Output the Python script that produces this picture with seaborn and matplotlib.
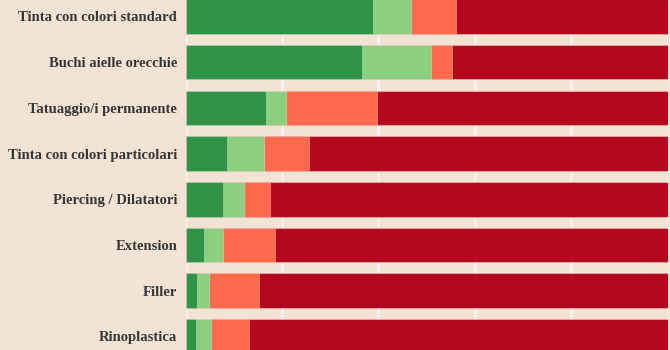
import matplotlib
matplotlib.use("Agg")
import matplotlib.pyplot as plt
import seaborn as sns
import numpy as np
import pandas as pd

categories = [
    "Tinta con colori standard",
    "Buchi aielle orecchie",
    "Tatuaggio/i permanente",
    "Tinta con colori particolari",
    "Piercing / Dilatatori",
    "Extension",
    "Filler",
    "Rinoplastica",
]
molto = [38.8, 36.6, 16.7, 8.6, 7.8, 3.8, 2.3, 2.1]
abbastanza = [7.9, 14.3, 4.1, 7.6, 4.3, 4.0, 2.6, 3.2]
poco = [9.4, 4.3, 18.9, 9.4, 5.5, 10.7, 10.4, 7.9]
per_niente = [43.9, 44.8, 60.3, 74.4, 82.4, 81.5, 84.7, 86.8]

series = [molto, abbastanza, poco, per_niente]
colors = ["#2f9246", "#8ccf7e", "#ff6a4d", "#b5081c"]
bg = "#f3e3d4"

sns.set_theme(style="white")
plt.rcParams["font.family"] = ["Liberation Serif", "DejaVu Serif"]

fig = plt.figure(figsize=(6.7, 3.5), dpi=100, facecolor=bg)
ax = fig.add_axes([185.5 / 670, 0, 482 / 670, 1])
ax.set_facecolor(bg)

# cumulative totals, drawn from the outermost segment inwards
cum = np.cumsum(np.array(series), axis=0)
for level in range(len(series) - 1, -1, -1):
    df = pd.DataFrame({"cat": categories, "val": cum[level]})
    sns.barplot(data=df, x="val", y="cat", orient="h", color=colors[level],
                width=0.755, saturation=1, edgecolor=(1, 1, 1, 0.3),
                linewidth=0.8, ax=ax, zorder=3)

ax.set_xlim(0, 100)
ax.set_ylim(7.298, -0.361)
ax.set_xticks([0, 20, 40, 60, 80, 100])
ax.xaxis.grid(True, color="#f9f1ec", linewidth=2, zorder=0)
ax.set_axisbelow(True)
ax.tick_params(axis="x", labelbottom=False, length=0)
ax.tick_params(axis="y", length=0, pad=6)
for lab in ax.get_yticklabels():
    lab.set_fontsize(10.5)
    lab.set_fontweight("bold")
    lab.set_color("#363636")
ax.set_xlabel("")
ax.set_ylabel("")
for s in ax.spines.values():
    s.set_visible(False)

fig.savefig("out.png", dpi=100, facecolor=bg)
